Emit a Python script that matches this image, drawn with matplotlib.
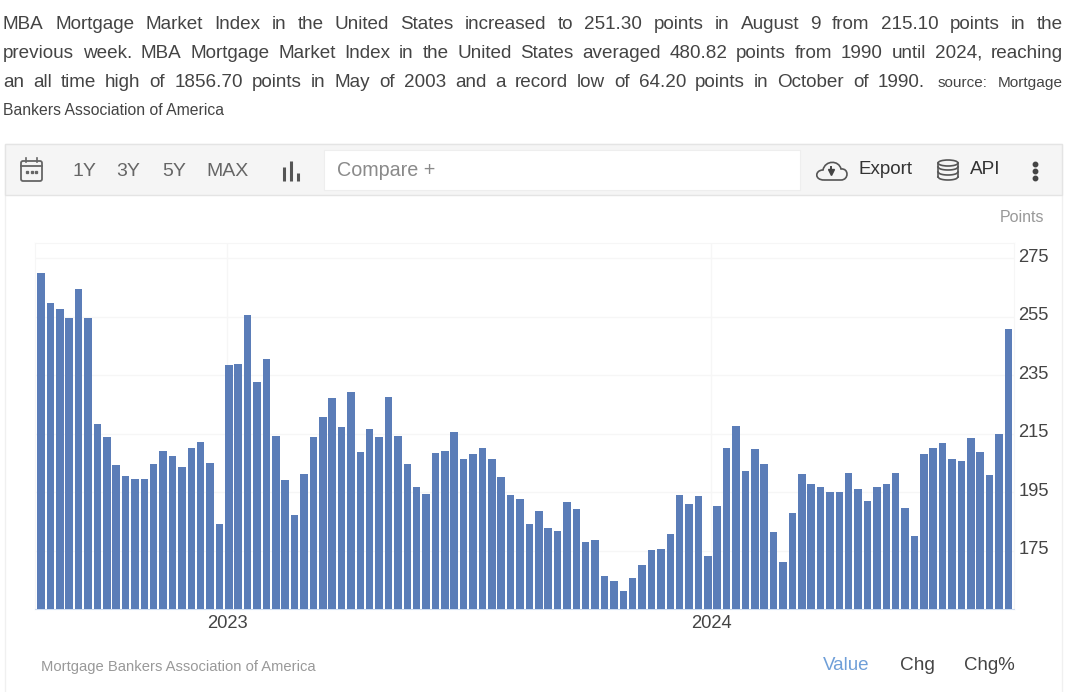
import matplotlib
matplotlib.use("Agg")
import matplotlib.pyplot as plt
from matplotlib.patches import Rectangle, Ellipse, FancyBboxPatch, PathPatch
from matplotlib.path import Path
from matplotlib.transforms import ScaledTranslation
import numpy as np

plt.rcParams['font.family'] = ['Liberation Sans', 'DejaVu Sans']

values = [
    269.9, 259.7, 257.6, 254.6, 264.5, 254.6, 218.2, 214.0, 204.2, 200.6,
    199.4, 199.4, 204.6, 209.2, 207.5, 203.6, 210.0, 212.2, 205.0, 184.2,
    238.4, 238.9, 255.5, 232.6, 240.6, 214.3, 199.0, 187.2, 201.1, 214.0,
    220.7, 227.1, 217.3, 229.2, 208.9, 216.5, 213.9, 227.5, 214.3, 204.5,
    196.9, 194.4, 208.4, 209.2, 215.6, 206.2, 207.9, 210.0, 206.2, 200.3,
    193.9, 192.6, 184.2, 188.4, 182.8, 181.6, 191.8, 189.3, 177.8, 178.6,
    166.3, 164.7, 161.3, 165.5, 170.2, 175.3, 175.6, 180.8, 193.9, 191.0,
    193.8, 173.2, 190.3, 210.0, 217.8, 202.1, 209.7, 204.6, 181.3, 171.1,
    187.7, 201.3, 197.8, 196.6, 195.2, 195.2, 201.7, 196.1, 191.9, 196.6,
    197.8, 201.7, 189.7, 179.9, 208.0, 210.2, 211.8, 206.3, 205.8, 213.5,
    208.8, 200.8, 214.8, 250.9,
]
y_ticks = [175, 195, 215, 235, 255, 275]
year_pos = [19.85, 71.35]
year_labels = ["2023", "2024"]

line1 = "MBA Mortgage Market Index in the United States increased to 251.30 points in August 9 from 215.10 points in the"
line2 = "previous week. MBA Mortgage Market Index in the United States averaged 480.82 points from 1990 until 2024, reaching"
line3 = "an all time high of 1856.70 points in May of 2003 and a record low of 64.20 points in October of 1990."
line3_small = "source: Mortgage"
line4_small = "Bankers Association of America"
source = "Mortgage Bankers Association of America"

W, H = 1068, 692
fig = plt.figure(figsize=(W / 100, H / 100), dpi=100, facecolor="white")

# page furniture, in pixel coords
bg = fig.add_axes([0, 0, 1, 1])
bg.set_xlim(0, W)
bg.set_ylim(H, 0)
bg.axis("off")
bg.add_patch(Rectangle((5, 144), 1057, 560, fc="white", ec="#f0f0f0", lw=1))
bg.add_patch(Rectangle((5, 144), 1057, 51, fc="#f5f5f5", ec="#e4e4e4", lw=1))
bg.add_patch(Rectangle((324, 150), 476, 40, fc="white", ec="#eeeeee", lw=0.8))

px = 72 / 100
text_px = 18.9


def justified(text, y, x0, x1, size, color="#444444"):
    words = text.split(" ")
    r = fig.canvas.get_renderer()
    widths = []
    for w in words:
        t = bg.text(0, 0, w, fontsize=size)
        widths.append(t.get_window_extent(r).width)
        t.remove()
    gap = (x1 - x0 - sum(widths)) / (len(words) - 1)
    x = x0
    for w, wd in zip(words, widths):
        bg.text(x, y, w, fontsize=size, color=color, va="baseline", ha="left")
        x += wd + gap


justified(line1, 29, 3, 1063, text_px * px)
justified(line2, 58, 3, 1063, text_px * px)
justified(line3, 87, 3, 925, text_px * px)
bg.text(938, 87, line3_small.split(" ")[0], fontsize=15.2 * px, color="#444444", va="baseline")
bg.text(1063, 87, line3_small.split(" ")[1], fontsize=15.4 * px, color="#444444", va="baseline", ha="right")
bg.text(3, 115, line4_small, fontsize=15.8 * px, color="#444444", va="baseline")

# toolbar
for s, x in zip(["1Y", "3Y", "5Y", "MAX"], [73, 116, 162, 206]):
    bg.text(x, 171, s, fontsize=19.5 * px, color="#666666", va="center")
bg.text(337, 171, "Compare +", fontsize=19.8 * px, color="#8a8a8a", va="center")
bg.text(858, 170, "Export", fontsize=18.8 * px, color="#333333", va="center")
bg.text(970, 170, "API", fontsize=19 * px, color="#333333", va="center")

# calendar icon
bg.add_patch(FancyBboxPatch((21, 161), 21, 20, boxstyle="round,pad=0,rounding_size=2", fc="none", ec="#666666", lw=1.3))
bg.plot([21, 42], [166, 166], color="#666666", lw=1.3)
bg.plot([26, 26], [158, 162], color="#666666", lw=1.2)
bg.plot([37, 37], [158, 162], color="#666666", lw=1.2)
bg.plot([27, 31.5, 36], [172, 172, 172], ls="none", marker="s", ms=1.4, color="#666666")

# bars icon
for x, y0 in zip([284, 291, 298], [167, 161, 173]):
    bg.plot([x, x], [y0, 181], color="#555555", lw=2.2, solid_capstyle="butt")

# cloud icon
cloud = Path(
    [(824, 180), (814, 180), (815, 170), (823, 170), (825, 160), (839, 160), (841, 169),
     (849, 168), (849, 180), (841, 180), (824, 180)],
    [Path.MOVETO, Path.CURVE4, Path.CURVE4, Path.CURVE4, Path.CURVE4, Path.CURVE4, Path.CURVE4,
     Path.CURVE4, Path.CURVE4, Path.CURVE4, Path.LINETO],
)
bg.add_patch(PathPatch(cloud, fc="none", ec="#555555", lw=1.2))
bg.plot([831], [172], marker="v", ms=5, color="#444444")
bg.plot([831, 831], [167, 171], color="#444444", lw=1.4)

# database icon
for y in [167, 172, 177]:
    bg.plot(np.linspace(938, 958, 15), y + 3 * np.sqrt(1 - np.linspace(-1, 1, 15) ** 2), color="#555555", lw=1.2)
bg.add_patch(Ellipse((948, 163), 20, 6, fc="none", ec="#555555", lw=1.2))
bg.plot([938, 938], [163, 177], color="#555555", lw=1.2)
bg.plot([958, 958], [163, 177], color="#555555", lw=1.2)

# dots
bg.plot([1035, 1035, 1035], [164, 171, 178], ls="none", marker="o", ms=3.2, color="#444444")

bg.text(1044, 218, "Points", fontsize=16 * px, color="#999999", va="center", ha="right")
bg.text(41, 667, source, fontsize=14.75 * px, color="#999999", va="center")
bg.text(823, 666, "Value", fontsize=18.8 * px, color="#6f9fd8", va="center")
bg.text(900, 666, "Chg", fontsize=19 * px, color="#444444", va="center")
bg.text(964, 666, "Chg%", fontsize=18.7 * px, color="#444444", va="center")

# chart
left, right, top, bottom = 35, 1014, 243, 609
ax = fig.add_axes([left / W, 1 - bottom / H, (right - left) / W, (bottom - top) / H])
ax.patch.set_alpha(0)
x = np.arange(len(values))
ax.bar(x, values, width=0.8, color="#5b7db8", zorder=3)
ax.set_xlim(-0.64, 103.6)
ax.set_ylim(155, 280.3)
ax.set_yticks(y_ticks)
ax.set_xticks(year_pos)
ax.set_xticklabels(year_labels)
ax.yaxis.tick_right()
ax.grid(True, color="#f6f6f6", lw=1, zorder=0)
ax.tick_params(length=0, labelsize=18.4 * px, labelcolor="#444444")
ax.tick_params(axis="y", pad=3)
ax.tick_params(axis="x", pad=4)
for lab in ax.get_yticklabels():
    lab.set_transform(lab.get_transform() + ScaledTranslation(0, 3 / 100, fig.dpi_scale_trans))
for sp in ["left", "top", "right"]:
    ax.spines[sp].set_color("#f6f6f6")
ax.spines["bottom"].set_color("#cfdcf0")

fig.savefig("out.png", dpi=100)
